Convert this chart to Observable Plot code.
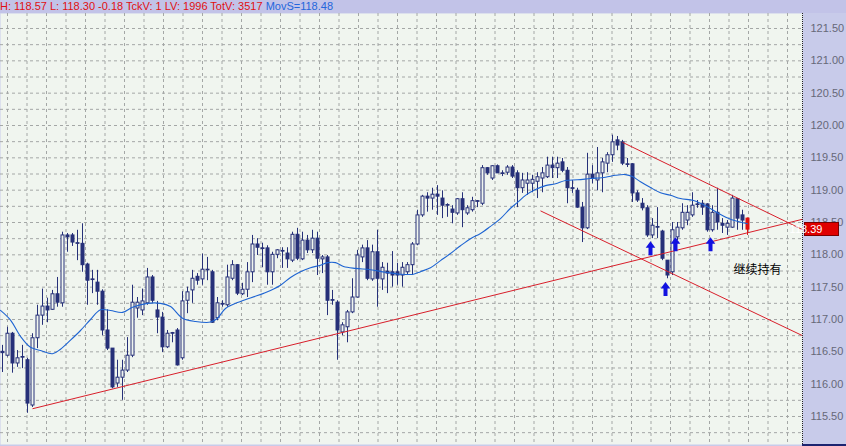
<!DOCTYPE html>
<html><head><meta charset="utf-8">
<script src="https://cdn.jsdelivr.net/npm/d3@7"></script>
<script src="https://cdn.jsdelivr.net/npm/@observablehq/plot@0.6"></script>
<style>
html,body{margin:0;padding:0;background:#c8cbea;overflow:hidden;width:846px;height:446px;}
#hdr{height:13px;background:#c2c3e8;font:11px "Liberation Sans",Arial,sans-serif;line-height:13px;white-space:nowrap;overflow:hidden;}
#chart svg{display:block;}
</style></head><body>
<div id="hdr"></div><div id="chart"></div>
<script>
// ---- candle data (index 0..149, one bar per slot) ----
const opens = [116.50,116.44,116.78,116.32,116.42,116.37,115.67,116.71,117.06,117.20,
117.15,117.39,117.25,118.30,118.30,118.18,118.17,117.85,117.62,117.57,
117.43,116.83,116.55,116.01,116.10,116.21,116.44,117.17,117.14,117.25,
117.65,117.14,117.03,116.57,116.79,116.83,116.40,117.29,117.45,117.66,
117.62,117.77,117.73,117.02,117.24,117.22,117.63,117.84,117.39,117.46,
117.73,118.16,118.10,118.10,117.73,118.00,118.06,118.02,117.91,118.31,
117.93,118.22,118.07,118.25,117.93,117.96,117.30,117.26,116.80,116.88,
117.11,117.34,117.96,118.10,117.62,118.04,117.62,117.74,117.73,117.73,
117.68,117.73,117.84,118.16,118.61,118.90,118.87,118.93,118.87,118.77,
118.70,118.64,118.86,118.64,118.69,118.83,118.79,119.34,119.18,119.37,
119.26,119.27,119.35,119.26,119.03,119.10,119.10,119.13,119.18,119.20,
119.38,119.34,119.43,119.30,119.03,118.99,118.73,118.41,119.24,119.15,
119.26,119.41,119.54,119.77,119.74,119.40,119.40,118.95,118.79,118.72,
118.30,118.43,118.36,117.91,117.73,118.27,118.41,118.53,118.61,118.78,
118.79,118.78,118.38,118.65,118.48,118.42,118.42,118.86,118.61,118.56];
const highs = [116.60,116.88,116.80,116.52,116.60,116.40,116.78,117.22,117.47,117.33,
117.45,117.65,118.35,118.33,118.33,118.38,118.48,117.87,117.76,117.76,
117.46,117.15,116.55,116.37,116.37,116.72,117.53,117.34,117.47,117.79,
117.68,117.28,117.11,116.83,116.80,116.86,117.43,117.50,117.76,117.71,
118.01,117.96,117.76,117.34,117.29,117.84,117.91,117.85,117.56,117.88,
118.30,118.25,118.18,118.14,118.04,118.08,118.11,118.11,118.35,118.41,
118.35,118.30,118.38,118.35,117.99,117.99,117.45,117.29,116.95,117.14,
117.63,118.07,118.15,118.22,118.15,118.38,117.88,117.87,118.05,117.87,
117.88,117.88,118.19,118.69,118.92,118.96,119.03,119.07,118.99,118.79,
118.76,118.87,118.96,118.76,118.89,118.84,119.38,119.35,119.38,119.39,
119.30,119.38,119.38,119.30,119.26,119.27,119.23,119.27,119.35,119.51,
119.51,119.51,119.49,119.35,119.15,119.03,118.81,119.57,119.38,119.66,
119.49,119.58,119.85,119.83,119.77,119.49,119.41,118.99,118.87,118.76,
118.56,118.73,118.38,117.91,118.50,118.50,118.79,118.76,118.96,118.84,
118.84,118.79,118.76,119.03,118.56,118.53,118.92,118.87,118.69,118.57];
const lows = [116.18,116.42,116.17,116.26,116.24,115.55,115.64,116.55,116.91,116.95,
117.14,117.19,117.19,118.04,118.13,117.91,117.73,117.22,117.40,117.22,
116.75,116.52,115.93,115.95,115.75,116.18,116.41,117.02,117.06,117.22,
117.25,116.78,116.49,116.55,116.64,116.28,116.37,117.09,117.25,117.53,
117.53,117.60,116.94,116.98,117.19,117.19,117.60,117.37,117.37,117.34,
117.57,117.99,117.80,117.53,117.53,117.94,117.79,117.79,117.88,117.91,
117.91,118.02,118.02,117.68,117.71,117.06,117.22,116.37,116.75,116.64,
117.09,117.33,117.88,117.60,117.59,117.19,117.45,117.40,117.50,117.53,
117.50,117.68,117.68,118.14,118.58,118.66,118.69,118.61,118.56,118.58,
118.48,118.61,118.42,118.61,118.66,118.73,118.76,119.23,119.15,119.26,
119.21,119.23,119.18,118.73,118.95,118.92,118.96,118.87,118.96,119.18,
119.18,119.18,119.27,118.79,118.95,118.72,118.19,118.39,119.10,118.99,
118.96,119.27,119.43,119.61,119.38,119.35,118.81,118.81,118.68,118.27,
118.25,118.25,117.91,117.63,117.68,118.22,118.38,118.45,118.58,118.72,
118.61,118.35,118.35,118.38,118.33,118.30,118.41,118.38,118.38,118.30];
const closes = [116.48,116.78,116.32,116.40,116.41,115.70,116.71,117.06,117.20,117.14,
117.39,117.26,118.30,118.27,118.19,118.17,117.84,117.60,117.61,117.43,
116.83,116.55,115.95,116.10,116.21,116.44,117.26,117.26,117.28,117.65,
117.29,117.03,116.57,116.78,116.78,116.29,117.28,117.42,117.63,117.60,
117.77,117.76,116.95,117.25,117.23,117.65,117.84,117.40,117.46,117.73,
118.16,118.11,118.09,117.73,118.00,118.07,118.05,117.93,118.31,117.94,
118.22,118.07,118.25,117.94,117.96,117.29,117.29,116.83,116.91,117.11,
117.34,117.99,118.10,117.63,118.04,117.63,117.80,117.71,117.68,117.68,
117.80,117.84,118.16,118.61,118.90,118.87,118.93,118.90,118.76,118.76,
118.65,118.86,118.69,118.72,118.83,118.82,119.34,119.26,119.37,119.26,
119.25,119.35,119.21,119.03,119.15,119.15,119.16,119.20,119.26,119.38,
119.34,119.41,119.30,119.03,119.02,118.73,118.41,119.24,119.18,119.26,
119.43,119.54,119.74,119.69,119.41,119.39,118.95,118.84,118.72,118.30,
118.45,118.42,117.94,117.68,118.38,118.42,118.65,118.65,118.76,118.77,
118.73,118.38,118.65,118.50,118.45,118.48,118.87,118.56,118.53,118.39];

// ---- moving average ----
const maX = [-0.4,1.6,3.6,5.6,7.6,10,11.6,13.6,15.6,17.6,19.6,21.6,24,26,29,31.6,33.6,36,38.6,41.6,43,44.6,47.6,51,53.6,55.6,57.6,59.6,61.6,63.6,65,66.6,68.2,70.6,73.6,76.6,79.6,82.2,83.6,85.6,87.6,89.6,91.6,93.6,95.6,97.6,99.6,101.6,103,104.6,106.6,108.6,110.6,112.6,115,117.6,120.6,122.6,124.6,126,127.6,129.6,131.6,133.6,135.6,138.2,140.6,143.2,145.6,149];
const maY = [117.14,116.99,116.74,116.57,116.52,116.47,116.54,116.68,116.83,117.00,117.15,117.14,117.11,117.19,117.25,117.25,117.20,117.02,116.97,116.96,117.02,117.17,117.28,117.37,117.45,117.53,117.65,117.74,117.80,117.84,117.88,117.88,117.82,117.79,117.77,117.73,117.70,117.70,117.74,117.80,117.91,118.02,118.14,118.25,118.33,118.44,118.56,118.72,118.81,118.92,119.01,119.07,119.10,119.15,119.16,119.18,119.20,119.23,119.24,119.21,119.13,119.04,118.96,118.92,118.87,118.84,118.76,118.64,118.55,118.48];

// ---- trend lines ----
const lineX1 = [6, 124, 107.6];
const lineY1 = [115.62, 119.74, 118.68];
const lineX2 = [160, 160, 160];
const lineY2 = [118.55, 118.39, 116.75];

// ---- arrows (tip position) ----
const arrowX = [129.6, 132.6, 134.6, 141.6];
const arrowY = [118.21, 117.58, 118.27, 118.27];

// ---- annotation ----
const noteText = ["继续持有"];
const noteX = [146.2];
const noteY = [117.76];

// ---- axis ----
const yTicks = [115.5,116,116.5,117,117.5,118,118.5,119,119.5,120,120.5,121,121.5];
const gridY = [115.25,115.5,115.75,116,116.25,116.5,116.75,117,117.25,117.5,117.75,118,118.25,118.5,118.75,119,119.25,119.5,119.75,120,120.25,120.5,120.75,121,121.25,121.5];
const gridX = [1,4.9,8.8,12.7,16.6,20.5,24.4,28.3,32.2,36.1,40,43.9,47.8,51.7,55.6,59.5,63.4,67.3,71.2,75.1,79,82.9,86.8,90.7,94.6,98.5,102.4,106.3,110.2,114.1,118,121.9,125.8,129.7,133.6,137.5,141.4,145.3,149.2,153.1,157];

// ---- header ----
const statLabels = ["H:", "L:", "", "TckV:", "LV:", "TotV:"];
const statValues = ["118.57", "118.30", "-0.18", "1", "1996", "3517"];
const movLabel = "MovS=";
const movValue = "118.48";

// ---- colors ----
const BG = "#f0f5ef", NAVY = "#263079", RED = "#d81e2a", MA = "#1e64d2", GRID = "#a4a7a6", LAST = "#e01010";
const FONT = '"Liberation Sans", Arial, sans-serif';

const hdr = document.getElementById("hdr");
const s1 = document.createElement("span");
s1.style.color = "#e01010";
s1.textContent = statLabels.map((l, i) => (l ? l + " " : "") + statValues[i]).join(" ") + " ";
const s2 = document.createElement("span");
s2.style.color = "#2466dc";
s2.textContent = movLabel + movValue;
hdr.append(s1, s2);

const candles = opens.map((o, i) => ({i, o, h: highs[i], l: lows[i], c: closes[i]}));
const lastIdx = candles.length - 1;
const lastClose = closes[lastIdx];
const col = d => d.i === lastIdx ? LAST : NAVY;
const ma = maX.map((x, k) => ({x, y: maY[k]}));
const lines = lineX1.map((x, k) => ({x1: x, y1: lineY1[k], x2: lineX2[k], y2: lineY2[k]}));
const arrows = arrowX.map((x, k) => ({x, y: arrowY[k]}));
const xMax = 160;

const arrowSymbol = {
  draw(ctx) {
    ctx.moveTo(0, 0);
    ctx.lineTo(4.8, 6.5);
    ctx.lineTo(2, 6.5);
    ctx.lineTo(2, 14);
    ctx.lineTo(-2, 14);
    ctx.lineTo(-2, 6.5);
    ctx.lineTo(-4.8, 6.5);
    ctx.closePath();
  }
};

function overlay(...args) {
  const scales = args.find(a => a && typeof a.y === "function");
  const dims = args.find(a => a && typeof a.width === "number" && a.marginRight !== undefined);
  const g = d3.create("svg:g");
  const x0 = dims.width - dims.marginRight;
  const yy = Math.round(scales.y(lastClose));
  g.append("rect").attr("x", x0 + 2.5).attr("y", yy - 6.5).attr("width", 34).attr("height", 13)
    .attr("fill", "#e00000").attr("stroke", "#7a0000");
  g.append("text").attr("x", x0 + 4).attr("y", yy).attr("dy", "0.36em")
    .attr("fill", "#ffffff").attr("font-size", 11).attr("font-family", FONT)
    .text(lastClose.toFixed(2));
  g.append("rect").attr("x", x0).attr("y", dims.height - 2).attr("width", dims.marginRight).attr("height", 2)
    .attr("fill", "#1c2470");
  return g.node();
}

const chart = Plot.plot({
  width: 846, height: 433,
  marginLeft: 0, marginRight: 44, marginTop: 0, marginBottom: 2,
  style: {background: "#c8cbea", fontFamily: FONT, fontSize: "11px", color: "#666878"},
  x: {domain: [-0.4, xMax], axis: null},
  y: {domain: [115.067, 121.732], axis: null},
  color: {type: "identity"},
  marks: [
    Plot.frame({fill: BG, stroke: "none"}),
    Plot.ruleY(gridY, {stroke: GRID, strokeDasharray: "3,3"}),
    Plot.ruleX(gridX, {stroke: GRID, strokeDasharray: "3,3"}),
    Plot.ruleX(candles, {x: "i", y1: "l", y2: "h", stroke: col}),
    Plot.rect(candles, {x1: d => d.i - 0.2, x2: d => d.i + 0.4, y1: "o", y2: "c",
      fill: d => d.i === lastIdx ? LAST : (d.c > d.o ? BG : NAVY), stroke: col}),
    Plot.line(ma, {x: "x", y: "y", stroke: MA, strokeWidth: 1.1, curve: "catmull-rom"}),
    Plot.link(lines, {x1: "x1", y1: "y1", x2: "x2", y2: "y2", stroke: RED, strokeWidth: 1}),
    Plot.dot(arrows, {x: "x", y: "y", symbol: arrowSymbol, r: 5, fill: "#1212e0", stroke: "none"}),
    Plot.text(noteText, {x: (d, k) => noteX[k], y: (d, k) => noteY[k], text: d => d, textAnchor: "start",
      fontSize: 12, fill: "#000", fontFamily: '"Noto Sans CJK SC", sans-serif'}),
    Plot.ruleX([xMax], {stroke: "#222", strokeDasharray: "1,1"}),
    Plot.text(yTicks, {x: () => xMax, y: d => d, dx: 8, text: d => d.toFixed(2), textAnchor: "start",
      fill: "#666878", fontSize: 11, fontFamily: FONT}),
    overlay
  ]
});
document.getElementById("chart").append(chart);
</script></body></html>
